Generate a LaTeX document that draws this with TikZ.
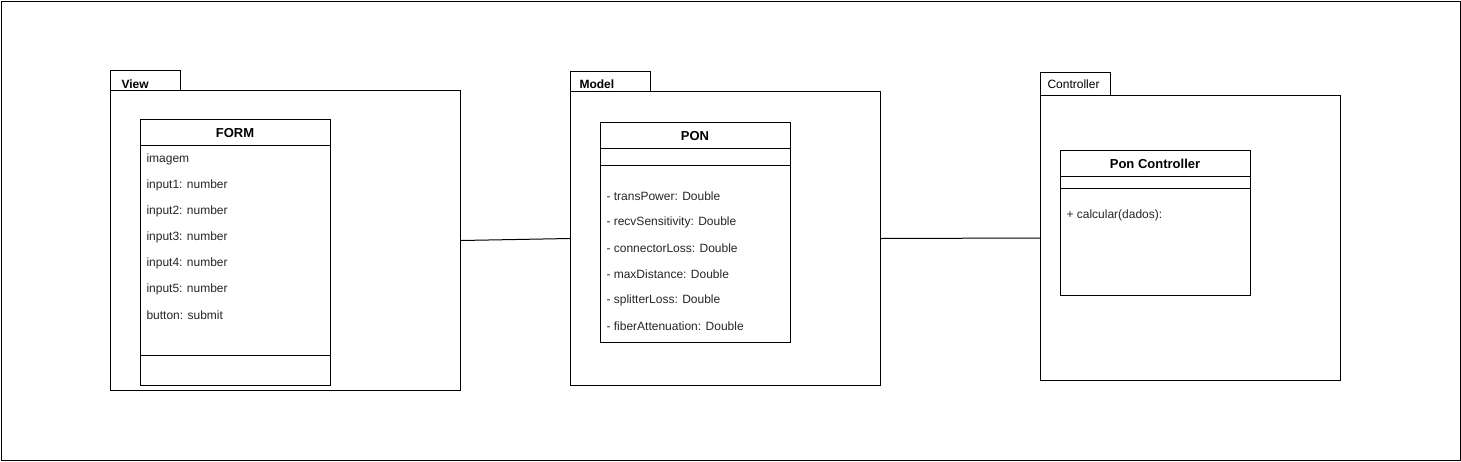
\documentclass[tikz,border=0pt]{standalone}
\usepackage{fontspec}
\setmainfont{Liberation Sans}
\begin{document}
\begin{tikzpicture}[x=1pt,y=-1pt,line width=1pt,
  pkgbody/.style={draw,anchor=north west,inner sep=0pt},
  pkgtab/.style={draw,anchor=north west,inner sep=0pt},
  pkglabel/.style={anchor=west,inner sep=0pt,font=\fontsize{12}{14}\selectfont\bfseries},
  classbox/.style={draw,anchor=north west,inner sep=0pt,fill=white},
  classtitle/.style={anchor=center,inner sep=0pt,font=\fontsize{13}{15}\selectfont\bfseries},
  attr/.style={anchor=west,inner sep=0pt,text=black!85,font=\fontsize{12}{14}\selectfont},
  sep/.style={draw}
]
\useasboundingbox (0,0) rectangle (1461,461);
\draw (1,1) rectangle (1460,460);

% View package
\node[pkgtab,minimum width=70pt,minimum height=20pt] (viewtab) at (110,70) {};
\node[pkgbody,minimum width=350pt,minimum height=300pt] (view) at (110,90) {};
\node[pkglabel] (viewlbl) at (121,84) {View};
\node[classbox,minimum width=190pt,minimum height=266pt] (form) at (140,119) {};
\draw[sep] (140,145) -- (330,145);
\draw[sep] (140,355) -- (330,355);
\node[classtitle] (formt) at (235,133) {FORM};
\node[attr] (f1) at (146,159) {imagem};
\node[attr] (f2) at (146,185) {input1: number};
\node[attr] (f3) at (146,211) {input2: number};
\node[attr] (f4) at (146,237) {input3: number};
\node[attr] (f5) at (146,263) {input4: number};
\node[attr] (f6) at (146,289) {input5: number};
\node[attr] (f7) at (146,315) {button: submit};

% Model package
\node[pkgtab,minimum width=80pt,minimum height=20pt] (modeltab) at (570,71) {};
\node[pkgbody,minimum width=310pt,minimum height=294pt] (model) at (570,91) {};
\node[pkglabel] (modellbl) at (579,84) {Model};
\node[classbox,minimum width=190pt,minimum height=220pt] (pon) at (600,122) {};
\draw[sep] (600,148) -- (790,148);
\draw[sep] (600,165) -- (790,165);
\node[classtitle] (pont) at (695,136) {PON};
\node[attr] (p1) at (606,196) {- transPower: Double};
\node[attr] (p2) at (606,222) {- recvSensitivity: Double};
\node[attr] (p3) at (606,248) {- connectorLoss: Double};
\node[attr] (p4) at (606,274) {- maxDistance: Double};
\node[attr] (p5) at (606,300) {- splitterLoss: Double};
\node[attr] (p6) at (606,326) {- fiberAttenuation: Double};

% Controller package
\node[pkgtab,minimum width=70pt,minimum height=23pt] (ctrltab) at (1040,72) {};
\node[pkgbody,minimum width=300pt,minimum height=285pt] (ctrl) at (1040,95) {};
\node[pkglabel,font=\fontsize{12}{14}\selectfont] (ctrllbl) at (1047,84) {Controller};
\node[classbox,minimum width=190pt,minimum height=145pt] (ponc) at (1060,150) {};
\draw[sep] (1060,176) -- (1250,176);
\draw[sep] (1060,188) -- (1250,188);
\node[classtitle] (ponct) at (1155,164) {Pon Controller};
\node[attr] (c1) at (1066,215) {+ calcular(dados):};

% connectors
\draw (view.east) -- (model.west);
\draw (model.east) -- (ctrl.west);
\end{tikzpicture}
\end{document}
